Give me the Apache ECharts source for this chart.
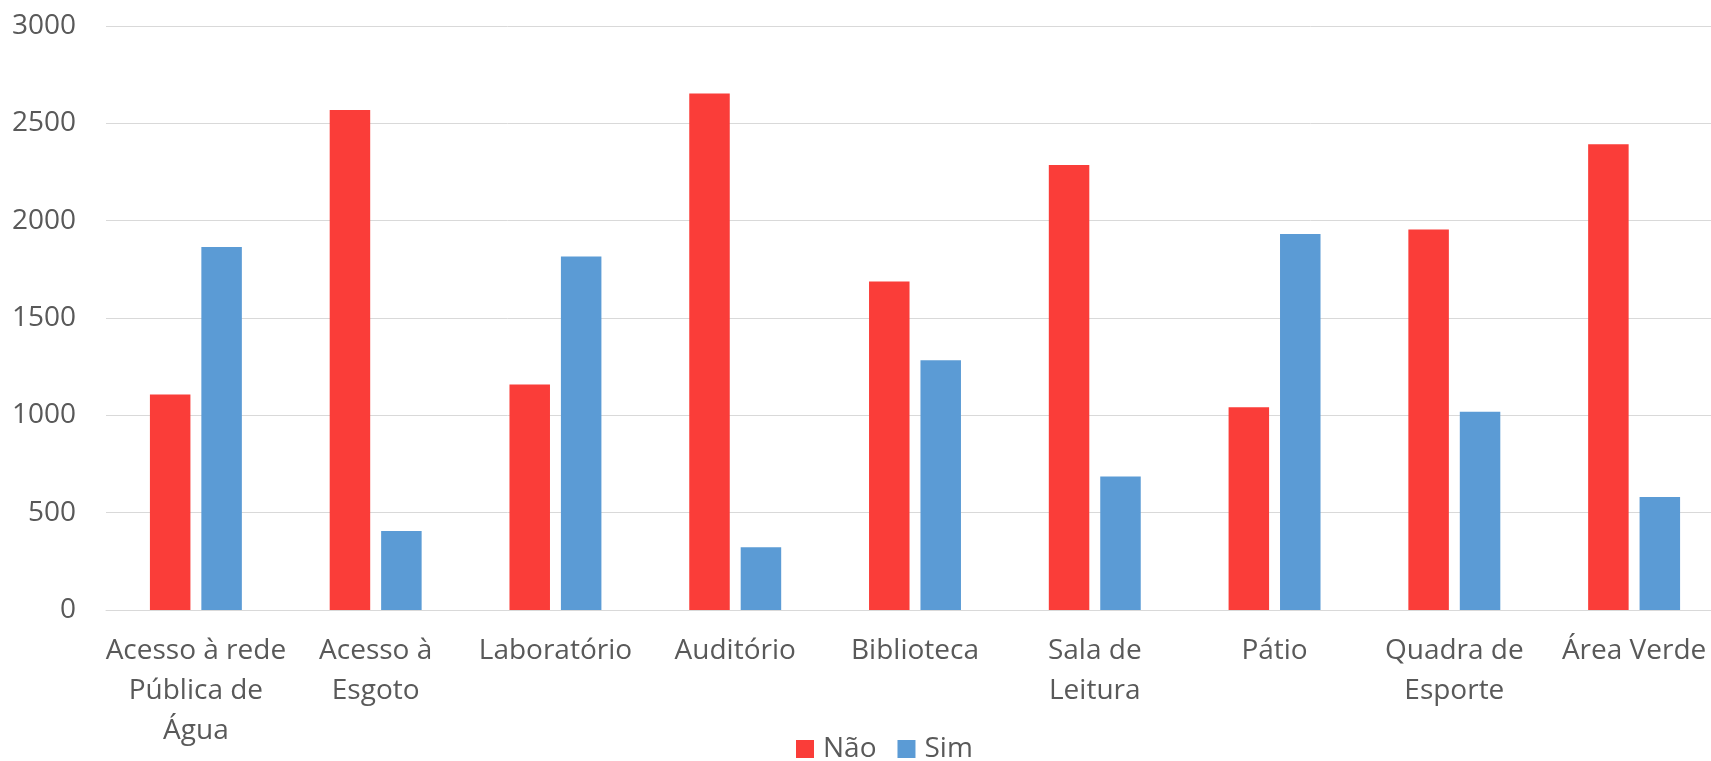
<!DOCTYPE html>
<html>
<head>
<meta charset="utf-8">
<title>Infraestrutura das escolas</title>
<script src="https://cdn.jsdelivr.net/npm/echarts@6/dist/echarts.min.js"></script>
<style>
  html, body { margin: 0; padding: 0; background: #ffffff; }
  #chart { width: 1711px; height: 761px; }
</style>
</head>
<body>
<div id="chart"></div>
<script>
// Categorias (quebras de linha como aparecem no eixo)
const categories = [
  'Acesso à rede\nPública de\nÁgua',
  'Acesso à\nEsgoto',
  'Laboratório',
  'Auditório',
  'Biblioteca',
  'Sala de\nLeitura',
  'Pátio',
  'Quadra de\nEsporte',
  'Área Verde'
];

// Número de escolas por resposta
const naoValues = [1107, 2569, 1158, 2653, 1687, 2286, 1041, 1954, 2393];
const simValues = [1865, 406, 1816, 322, 1283, 686, 1931, 1019, 580];

const seriesNames = ['Não', 'Sim'];
const yTicks = { min: 0, max: 3000, interval: 500 };

const FONT = '"Open Sans", "Noto Sans", sans-serif';
const TEXT = '#595959';
const GRID = '#D9D9D9';

const chart = echarts.init(document.getElementById('chart'), null, { renderer: 'canvas' });

chart.setOption({
  animation: false,
  backgroundColor: '#ffffff',
  textStyle: { fontFamily: FONT },
  // a área de plotagem continua um pouco além da borda direita
  grid: {
    left: 106, width: 1618, top: 26, bottom: 151,
    containLabel: false,
    outerBoundsMode: 'none'
  },
  legend: {
    data: seriesNames,
    left: 791,
    top: 730,
    itemWidth: 18,
    itemHeight: 18,
    itemGap: 21,
    icon: 'rect',
    textStyle: { fontFamily: FONT, fontSize: 28, color: TEXT, padding: [0, 0, 0, 4] }
  },
  xAxis: {
    type: 'category',
    data: categories,
    axisTick: { show: false },
    axisLine: { show: true, lineStyle: { color: GRID, width: 1 } },
    axisLabel: {
      interval: 0,
      margin: 21,
      fontFamily: FONT,
      fontSize: 28,
      lineHeight: 40,
      color: TEXT,
      align: 'center'
    }
  },
  yAxis: {
    type: 'value',
    min: yTicks.min,
    max: yTicks.max,
    interval: yTicks.interval,
    axisLine: { show: false },
    axisTick: { show: false },
    splitLine: { lineStyle: { color: GRID, width: 1 } },
    axisLabel: {
      margin: 30,
      fontFamily: FONT,
      fontSize: 28,
      color: TEXT,
      formatter: (v) => String(v)
    }
  },
  series: [
    {
      name: seriesNames[0],
      type: 'bar',
      data: naoValues,
      barWidth: 40.5,
      barGap: '27%',
      itemStyle: { color: '#FA3D39' }
    },
    {
      name: seriesNames[1],
      type: 'bar',
      data: simValues,
      barWidth: 40.5,
      barGap: '27%',
      itemStyle: { color: '#5B9BD5' }
    }
  ]
});
</script>
</body>
</html>
